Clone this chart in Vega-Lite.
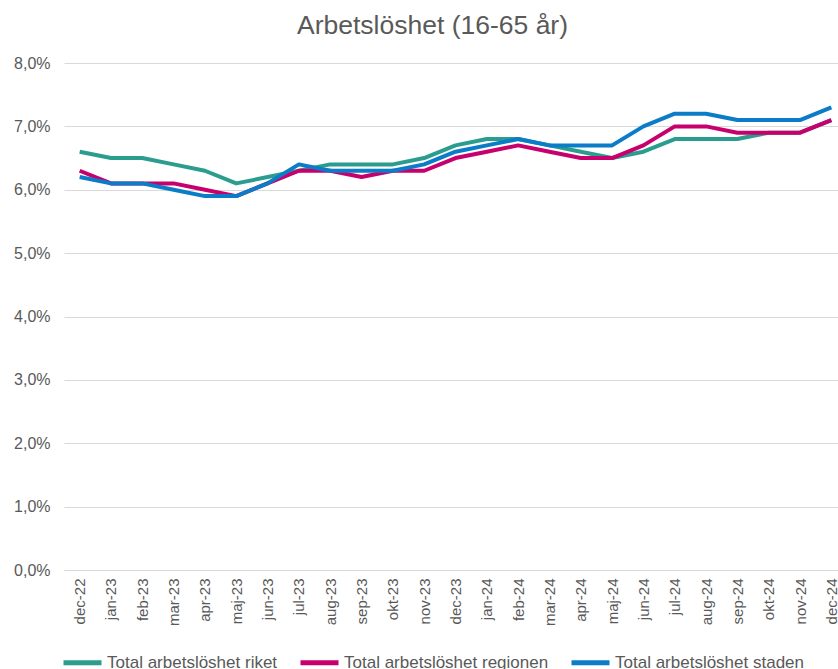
{
  "$schema": "https://vega.github.io/schema/vega-lite/v6.json",
  "autosize": "none",
  "padding": {"left": 64, "top": 63, "right": 0, "bottom": 99},
  "width": 783,
  "height": 507,
  "background": "white",
  "title": {
    "text": "Arbetslöshet (16-65 år)",
    "anchor": "start",
    "frame": "group",
    "dx": 233,
    "offset": 16,
    "font": "Liberation Sans",
    "fontSize": 26.5,
    "fontWeight": "normal",
    "color": "#595959"
  },
  "datasets": {
    "rows": [
      {"m": "dec-22", "s": "Total arbetslöshet riket", "v": 6.6},
      {"m": "jan-23", "s": "Total arbetslöshet riket", "v": 6.5},
      {"m": "feb-23", "s": "Total arbetslöshet riket", "v": 6.5},
      {"m": "mar-23", "s": "Total arbetslöshet riket", "v": 6.4},
      {"m": "apr-23", "s": "Total arbetslöshet riket", "v": 6.3},
      {"m": "maj-23", "s": "Total arbetslöshet riket", "v": 6.1},
      {"m": "jun-23", "s": "Total arbetslöshet riket", "v": 6.2},
      {"m": "jul-23", "s": "Total arbetslöshet riket", "v": 6.3},
      {"m": "aug-23", "s": "Total arbetslöshet riket", "v": 6.4},
      {"m": "sep-23", "s": "Total arbetslöshet riket", "v": 6.4},
      {"m": "okt-23", "s": "Total arbetslöshet riket", "v": 6.4},
      {"m": "nov-23", "s": "Total arbetslöshet riket", "v": 6.5},
      {"m": "dec-23", "s": "Total arbetslöshet riket", "v": 6.7},
      {"m": "jan-24", "s": "Total arbetslöshet riket", "v": 6.8},
      {"m": "feb-24", "s": "Total arbetslöshet riket", "v": 6.8},
      {"m": "mar-24", "s": "Total arbetslöshet riket", "v": 6.7},
      {"m": "apr-24", "s": "Total arbetslöshet riket", "v": 6.6},
      {"m": "maj-24", "s": "Total arbetslöshet riket", "v": 6.5},
      {"m": "jun-24", "s": "Total arbetslöshet riket", "v": 6.6},
      {"m": "jul-24", "s": "Total arbetslöshet riket", "v": 6.8},
      {"m": "aug-24", "s": "Total arbetslöshet riket", "v": 6.8},
      {"m": "sep-24", "s": "Total arbetslöshet riket", "v": 6.8},
      {"m": "okt-24", "s": "Total arbetslöshet riket", "v": 6.9},
      {"m": "nov-24", "s": "Total arbetslöshet riket", "v": 6.9},
      {"m": "dec-24", "s": "Total arbetslöshet riket", "v": 7.1},
      {"m": "dec-22", "s": "Total arbetslöshet regionen", "v": 6.3},
      {"m": "jan-23", "s": "Total arbetslöshet regionen", "v": 6.1},
      {"m": "feb-23", "s": "Total arbetslöshet regionen", "v": 6.1},
      {"m": "mar-23", "s": "Total arbetslöshet regionen", "v": 6.1},
      {"m": "apr-23", "s": "Total arbetslöshet regionen", "v": 6.0},
      {"m": "maj-23", "s": "Total arbetslöshet regionen", "v": 5.9},
      {"m": "jun-23", "s": "Total arbetslöshet regionen", "v": 6.1},
      {"m": "jul-23", "s": "Total arbetslöshet regionen", "v": 6.3},
      {"m": "aug-23", "s": "Total arbetslöshet regionen", "v": 6.3},
      {"m": "sep-23", "s": "Total arbetslöshet regionen", "v": 6.2},
      {"m": "okt-23", "s": "Total arbetslöshet regionen", "v": 6.3},
      {"m": "nov-23", "s": "Total arbetslöshet regionen", "v": 6.3},
      {"m": "dec-23", "s": "Total arbetslöshet regionen", "v": 6.5},
      {"m": "jan-24", "s": "Total arbetslöshet regionen", "v": 6.6},
      {"m": "feb-24", "s": "Total arbetslöshet regionen", "v": 6.7},
      {"m": "mar-24", "s": "Total arbetslöshet regionen", "v": 6.6},
      {"m": "apr-24", "s": "Total arbetslöshet regionen", "v": 6.5},
      {"m": "maj-24", "s": "Total arbetslöshet regionen", "v": 6.5},
      {"m": "jun-24", "s": "Total arbetslöshet regionen", "v": 6.7},
      {"m": "jul-24", "s": "Total arbetslöshet regionen", "v": 7.0},
      {"m": "aug-24", "s": "Total arbetslöshet regionen", "v": 7.0},
      {"m": "sep-24", "s": "Total arbetslöshet regionen", "v": 6.9},
      {"m": "okt-24", "s": "Total arbetslöshet regionen", "v": 6.9},
      {"m": "nov-24", "s": "Total arbetslöshet regionen", "v": 6.9},
      {"m": "dec-24", "s": "Total arbetslöshet regionen", "v": 7.1},
      {"m": "dec-22", "s": "Total arbetslöshet staden", "v": 6.2},
      {"m": "jan-23", "s": "Total arbetslöshet staden", "v": 6.1},
      {"m": "feb-23", "s": "Total arbetslöshet staden", "v": 6.1},
      {"m": "mar-23", "s": "Total arbetslöshet staden", "v": 6.0},
      {"m": "apr-23", "s": "Total arbetslöshet staden", "v": 5.9},
      {"m": "maj-23", "s": "Total arbetslöshet staden", "v": 5.9},
      {"m": "jun-23", "s": "Total arbetslöshet staden", "v": 6.1},
      {"m": "jul-23", "s": "Total arbetslöshet staden", "v": 6.4},
      {"m": "aug-23", "s": "Total arbetslöshet staden", "v": 6.3},
      {"m": "sep-23", "s": "Total arbetslöshet staden", "v": 6.3},
      {"m": "okt-23", "s": "Total arbetslöshet staden", "v": 6.3},
      {"m": "nov-23", "s": "Total arbetslöshet staden", "v": 6.4},
      {"m": "dec-23", "s": "Total arbetslöshet staden", "v": 6.6},
      {"m": "jan-24", "s": "Total arbetslöshet staden", "v": 6.7},
      {"m": "feb-24", "s": "Total arbetslöshet staden", "v": 6.8},
      {"m": "mar-24", "s": "Total arbetslöshet staden", "v": 6.7},
      {"m": "apr-24", "s": "Total arbetslöshet staden", "v": 6.7},
      {"m": "maj-24", "s": "Total arbetslöshet staden", "v": 6.7},
      {"m": "jun-24", "s": "Total arbetslöshet staden", "v": 7.0},
      {"m": "jul-24", "s": "Total arbetslöshet staden", "v": 7.2},
      {"m": "aug-24", "s": "Total arbetslöshet staden", "v": 7.2},
      {"m": "sep-24", "s": "Total arbetslöshet staden", "v": 7.1},
      {"m": "okt-24", "s": "Total arbetslöshet staden", "v": 7.1},
      {"m": "nov-24", "s": "Total arbetslöshet staden", "v": 7.1},
      {"m": "dec-24", "s": "Total arbetslöshet staden", "v": 7.3}
    ]
  },
  "data": {"name": "rows"},
  "mark": {"type": "line", "strokeWidth": 4, "strokeJoin": "round"},
  "encoding": {
    "x": {
      "field": "m",
      "type": "ordinal",
      "sort": null,
      "title": null,
      "scale": {"type": "point", "padding": 0.5},
      "axis": {
        "labelAngle": -90,
        "labelAlign": "right",
        "labelBaseline": "middle",
        "labelPadding": 8,
        "labelFont": "Liberation Sans",
        "labelFontSize": 15,
        "labelColor": "#595959",
        "ticks": false,
        "domain": true,
        "domainColor": "#d9d9d9",
        "domainWidth": 1,
        "grid": false
      }
    },
    "y": {
      "field": "v",
      "type": "quantitative",
      "title": null,
      "scale": {"domain": [0, 8], "nice": false},
      "axis": {
        "values": [0, 1, 2, 3, 4, 5, 6, 7, 8],
        "labelExpr": "replace(format(datum.value, '.1f'), '.', ',') + '%'",
        "labelFont": "Liberation Sans",
        "labelFontSize": 16,
        "labelColor": "#595959",
        "labelPadding": 14,
        "ticks": false,
        "domain": false,
        "grid": true,
        "gridColor": "#d9d9d9",
        "gridWidth": 1
      }
    },
    "color": {
      "field": "s",
      "type": "nominal",
      "sort": null,
      "scale": {
        "domain": ["Total arbetslöshet riket", "Total arbetslöshet regionen", "Total arbetslöshet staden"],
        "range": ["#2a9d8f", "#c8006e", "#0a7cc8"]
      },
      "legend": {
        "title": null,
        "orient": "none",
        "direction": "horizontal",
        "legendX": -3,
        "legendY": 578,
        "symbolType": "stroke",
        "symbolStrokeWidth": 5,
        "symbolSize": 1444,
        "labelFont": "Liberation Sans",
        "labelFontSize": 17,
        "labelColor": "#595959",
        "labelOffset": 3,
        "labelLimit": 300,
        "columnPadding": 12
      }
    }
  },
  "config": {"view": {"stroke": null}}
}
